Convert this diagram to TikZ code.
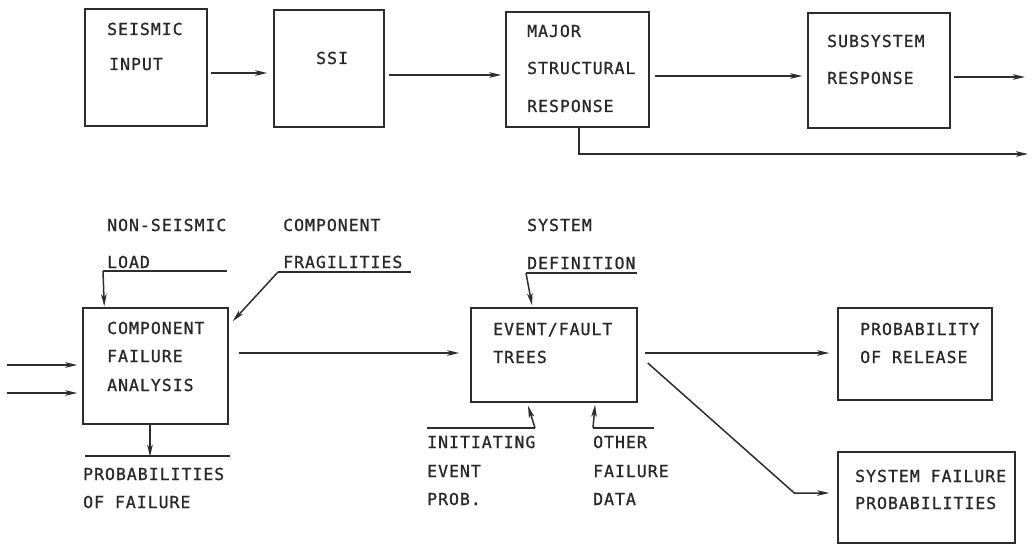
\documentclass[tikz,border=0pt]{standalone}
\usepackage{fontspec}
\usepackage{tikz}
\usetikzlibrary{calc}
\usetikzlibrary{arrows.meta}
\newfontfamily\plotfont[LetterSpace=6,FakeBold=1]{DejaVu Sans Mono}
\definecolor{cb}{RGB}{45,45,45}
\definecolor{cbt}{RGB}{40,40,40}
\tikzstyle{box}=[draw=cb, line width=1.5pt, inner sep=0pt]
\tikzstyle{lbl}=[cbt, anchor=base west, inner sep=0pt, font=\plotfont\fontsize{16.5}{19}\selectfont]
\tikzstyle{rule}=[cb, line width=1.5pt]
\tikzstyle{arrow}=[cb, line width=1.5pt, ->, >={Stealth[length=12pt,width=5.5pt,inset=3pt]}]

\begin{document}
\begin{tikzpicture}[x=1pt, y=-1pt]
  \useasboundingbox (0,0) rectangle (1032,545);

  % top row
  \node [box, minimum width=122pt, minimum height=117pt] (sin) at (146,67.5) {};
  \node [lbl] (sin1) at (107,35) {SEISMIC};
  \node [lbl] (sin2) at (109,70) {INPUT};

  \node [box, minimum width=110pt, minimum height=117pt] (ssi) at (329,68.5) {};
  \node [lbl] (ssi1) at (316,64) {SSI};

  \node [box, minimum width=143pt, minimum height=115pt] (msr) at (577.5,69.5) {};
  \node [lbl] (msr1) at (527,37) {MAJOR};
  \node [lbl] (msr2) at (527,74) {STRUCTURAL};
  \node [lbl] (msr3) at (527,112) {RESPONSE};

  \node [box, minimum width=142pt, minimum height=115pt] (ssr) at (879,70.5) {};
  \node [lbl] (ssr1) at (827,47) {SUBSYSTEM};
  \node [lbl] (ssr2) at (827,84) {RESPONSE};

  \coordinate (ssrout) at (1025,77);
  \coordinate (msrout) at (1028,154);

  \draw [arrow] ($(sin.east)+(3,5.5)$) -- ($(ssi.west)+(-6,4.5)$);
  \draw [arrow] ($(ssi.east)+(4,6.5)$) -- ($(msr.west)+(-4,5.5)$);
  \draw [arrow] ($(msr.east)+(5,6.5)$) -- ($(ssr.west)+(-5,5.5)$);
  \draw [arrow] ($(ssr.east)+(3,6.5)$) -- (ssrout);
  \draw [arrow] ($(msr.south)+(1.5,0)$) |- (msrout);

  % component failure analysis
  \node [lbl] (nsl1) at (107,231) {NON-SEISMIC};
  \node [lbl] (nsl2) at (107,268) {LOAD};
  \node [lbl] (frg1) at (283,231) {COMPONENT};
  \node [lbl] (frg2) at (283,268) {FRAGILITIES};

  \node [box, minimum width=145pt, minimum height=116pt] (cfa) at (155.5,366) {};
  \node [lbl] (cfa1) at (107,334) {COMPONENT};
  \node [lbl] (cfa2) at (107,362) {FAILURE};
  \node [lbl] (cfa3) at (107,391) {ANALYSIS};

  \node [lbl] (pof1) at (83,480) {PROBABILITIES};
  \node [lbl] (pof2) at (83,508) {OF FAILURE};

  \coordinate (nsll) at (103,271);
  \coordinate (nslr) at (227,271);
  \coordinate (frgl) at (278,272);
  \coordinate (frgr) at (411,272);
  \coordinate (pofl) at (85,456);
  \coordinate (pofr) at (230,456);
  \coordinate (in1) at (7,365);
  \coordinate (in2) at (7,393);

  \draw [rule] (nsll) -- (nslr);
  \draw [rule] (frgl) -- (frgr);
  \draw [rule] (pofl) -- (pofr);
  \draw [arrow] (nsll) -- ($(cfa.north west)+(22,-1)$);
  \draw [arrow] (frgl) -- ($(cfa.north east)+(4,14)$);
  \draw [arrow] (in1) -- ($(cfa.west |- in1)+(-5,0)$);
  \draw [arrow] (in2) -- ($(cfa.west |- in2)+(-5,0)$);
  \draw [arrow] ($(cfa.south)+(-5.5,0)$) -- ($(cfa.south)+(-5.5,32)$);

  % event/fault trees
  \node [lbl] (sdf1) at (527,231) {SYSTEM};
  \node [lbl] (sdf2) at (527,269) {DEFINITION};

  \node [box, minimum width=166pt, minimum height=94pt] (eft) at (554,355) {};
  \node [lbl] (eft1) at (493,335) {EVENT/FAULT};
  \node [lbl] (eft2) at (493,363) {TREES};

  \node [lbl] (iep1) at (427,448) {INITIATING};
  \node [lbl] (iep2) at (427,477) {EVENT};
  \node [lbl] (iep3) at (427,505) {PROB.};
  \node [lbl] (ofd1) at (593,448) {OTHER};
  \node [lbl] (ofd2) at (593,477) {FAILURE};
  \node [lbl] (ofd3) at (593,505) {DATA};

  \coordinate (sdfl) at (526,273);
  \coordinate (sdfr) at (637,273);
  \coordinate (iepl) at (427,428);
  \coordinate (iepr) at (535,428);
  \coordinate (ofdl) at (593,428);
  \coordinate (ofdr) at (654,428);

  \draw [rule] (sdfl) -- (sdfr);
  \draw [rule] (iepl) -- (iepr);
  \draw [rule] (ofdl) -- (ofdr);
  \draw [arrow] (sdfl) -- ($(eft.north)+(-22,-2)$);
  \draw [arrow] (iepr) -- ($(eft.south)+(-26,3)$);
  \draw [arrow] (ofdl) -- ($(eft.south)+(41,2)$);
  \draw [arrow] ($(cfa.east)+(10,-13)$) -- ($(eft.west)+(-11,-2)$);

  % results
  \node [box, minimum width=154pt, minimum height=92pt] (por) at (915,354) {};
  \node [lbl] (por1) at (860,335) {PROBABILITY};
  \node [lbl] (por2) at (860,363) {OF RELEASE};

  \node [box, minimum width=177pt, minimum height=91pt] (sfp) at (926.5,497.5) {};
  \node [lbl] (sfp1) at (855,482) {SYSTEM FAILURE};
  \node [lbl] (sfp2) at (855,509) {PROBABILITIES};

  \draw [arrow] ($(eft.east)+(7,-2)$) -- ($(por.west)+(-8,-1)$);
  \draw [arrow] ($(eft.east)+(10,8)$) -- ($(sfp.west)+(-43,-4.5)$) -- ($(sfp.west)+(-8,-4.5)$);
\end{tikzpicture}
\end{document}
